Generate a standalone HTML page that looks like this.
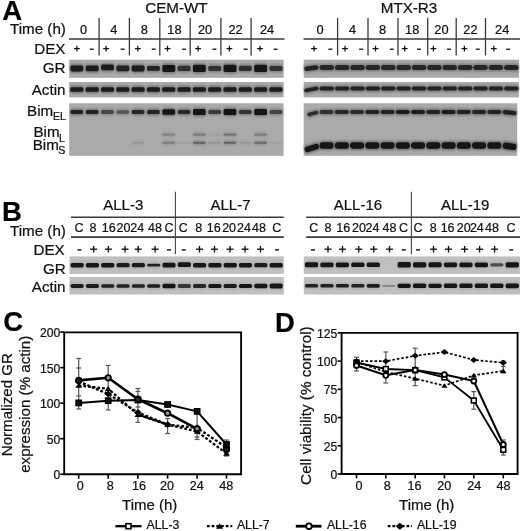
<!DOCTYPE html>
<html><head><meta charset="utf-8"><style>
html,body{margin:0;padding:0;background:#fff;overflow:hidden;}
svg{display:block;font-family:"Liberation Sans", sans-serif;filter:grayscale(1);}
text{stroke:#111;stroke-width:0.22px;}
</style></head><body>
<svg width="520" height="531" viewBox="0 0 520 531">
<defs><filter id="bl" x="-20%" y="-80%" width="140%" height="260%"><feGaussianBlur stdDeviation="0.75"/></filter>
<filter id="b2" x="-20%" y="-80%" width="140%" height="260%"><feGaussianBlur stdDeviation="1.1"/></filter></defs>
<rect width="520" height="531" fill="#fff"/>
<text x="2.21" y="19.60" font-size="27.5" font-weight="bold" fill="#000" >A</text>
<text x="145.22" y="12.60" font-size="15.2" fill="#111" >CEM-WT</text>
<text x="380.75" y="12.70" font-size="15.2" fill="#111" >MTX-R3</text>
<text x="9.93" y="34.40" font-size="15.2" fill="#111" >Time (h)</text>
<text x="34.27" y="54.20" font-size="15.2" fill="#111" >DEX</text>
<text x="42.81" y="72.85" font-size="15.2" fill="#111" >GR</text>
<text x="31.70" y="95.10" font-size="15.2" fill="#111" >Actin</text>
<text x="27.05" y="115.80" font-size="15.2" fill="#111" >Bim</text>
<text x="53.03" y="119.90" font-size="10.6" fill="#111" >EL</text>
<text x="33.45" y="137.30" font-size="15.2" fill="#111" >Bim</text>
<text x="59.03" y="141.60" font-size="10.6" fill="#111" >L</text>
<text x="32.65" y="149.70" font-size="15.2" fill="#111" >Bim</text>
<text x="58.31" y="153.90" font-size="10.6" fill="#111" >S</text>
<line x1="69.00" y1="39.00" x2="284.50" y2="39.00" stroke="#3a3a3a" stroke-width="1.4" />
<line x1="303.50" y1="39.00" x2="520.00" y2="39.00" stroke="#3a3a3a" stroke-width="1.4" />
<line x1="99.10" y1="18.00" x2="99.10" y2="55.50" stroke="#3a3a3a" stroke-width="1.3" />
<line x1="129.40" y1="18.00" x2="129.40" y2="55.50" stroke="#3a3a3a" stroke-width="1.3" />
<line x1="159.80" y1="18.00" x2="159.80" y2="55.50" stroke="#3a3a3a" stroke-width="1.3" />
<line x1="190.20" y1="18.00" x2="190.20" y2="55.50" stroke="#3a3a3a" stroke-width="1.3" />
<line x1="220.90" y1="18.00" x2="220.90" y2="55.50" stroke="#3a3a3a" stroke-width="1.3" />
<line x1="251.10" y1="18.00" x2="251.10" y2="55.50" stroke="#3a3a3a" stroke-width="1.3" />
<line x1="337.60" y1="18.00" x2="337.60" y2="55.50" stroke="#3a3a3a" stroke-width="1.3" />
<line x1="368.00" y1="18.00" x2="368.00" y2="55.50" stroke="#3a3a3a" stroke-width="1.3" />
<line x1="398.00" y1="18.00" x2="398.00" y2="55.50" stroke="#3a3a3a" stroke-width="1.3" />
<line x1="427.70" y1="18.00" x2="427.70" y2="55.50" stroke="#3a3a3a" stroke-width="1.3" />
<line x1="456.20" y1="18.00" x2="456.20" y2="55.50" stroke="#3a3a3a" stroke-width="1.3" />
<line x1="485.50" y1="18.00" x2="485.50" y2="55.50" stroke="#3a3a3a" stroke-width="1.3" />
<text x="80.09" y="33.80" font-size="12.8" fill="#111" >0</text>
<text x="110.33" y="33.80" font-size="12.8" fill="#111" >4</text>
<text x="140.64" y="33.80" font-size="12.8" fill="#111" >8</text>
<text x="167.27" y="33.80" font-size="12.8" fill="#111" >18</text>
<text x="197.96" y="33.80" font-size="12.8" fill="#111" >20</text>
<text x="228.48" y="33.80" font-size="12.8" fill="#111" >22</text>
<text x="259.90" y="33.80" font-size="12.8" fill="#111" >24</text>
<text x="316.59" y="33.80" font-size="12.8" fill="#111" >0</text>
<text x="348.88" y="33.80" font-size="12.8" fill="#111" >4</text>
<text x="379.04" y="33.80" font-size="12.8" fill="#111" >8</text>
<text x="405.12" y="33.80" font-size="12.8" fill="#111" >18</text>
<text x="434.36" y="33.80" font-size="12.8" fill="#111" >20</text>
<text x="463.33" y="33.80" font-size="12.8" fill="#111" >22</text>
<text x="495.10" y="33.80" font-size="12.8" fill="#111" >24</text>
<rect x="74.00" y="47.98" width="5.80" height="1.25" fill="#111" />
<rect x="76.28" y="45.75" width="1.25" height="5.70" fill="#111" />
<rect x="103.20" y="47.98" width="5.80" height="1.25" fill="#111" />
<rect x="105.47" y="45.75" width="1.25" height="5.70" fill="#111" />
<rect x="134.90" y="47.98" width="5.80" height="1.25" fill="#111" />
<rect x="137.18" y="45.75" width="1.25" height="5.70" fill="#111" />
<rect x="164.60" y="47.98" width="5.80" height="1.25" fill="#111" />
<rect x="166.88" y="45.75" width="1.25" height="5.70" fill="#111" />
<rect x="195.20" y="47.98" width="5.80" height="1.25" fill="#111" />
<rect x="197.47" y="45.75" width="1.25" height="5.70" fill="#111" />
<rect x="226.50" y="47.98" width="5.80" height="1.25" fill="#111" />
<rect x="228.78" y="45.75" width="1.25" height="5.70" fill="#111" />
<rect x="257.10" y="47.98" width="5.80" height="1.25" fill="#111" />
<rect x="259.38" y="45.75" width="1.25" height="5.70" fill="#111" />
<rect x="311.10" y="47.98" width="5.80" height="1.25" fill="#111" />
<rect x="313.38" y="45.75" width="1.25" height="5.70" fill="#111" />
<rect x="342.10" y="47.98" width="5.80" height="1.25" fill="#111" />
<rect x="344.38" y="45.75" width="1.25" height="5.70" fill="#111" />
<rect x="372.60" y="47.98" width="5.80" height="1.25" fill="#111" />
<rect x="374.88" y="45.75" width="1.25" height="5.70" fill="#111" />
<rect x="401.80" y="47.98" width="5.80" height="1.25" fill="#111" />
<rect x="404.07" y="45.75" width="1.25" height="5.70" fill="#111" />
<rect x="430.50" y="47.98" width="5.80" height="1.25" fill="#111" />
<rect x="432.77" y="45.75" width="1.25" height="5.70" fill="#111" />
<rect x="461.50" y="47.98" width="5.80" height="1.25" fill="#111" />
<rect x="463.77" y="45.75" width="1.25" height="5.70" fill="#111" />
<rect x="490.90" y="47.98" width="5.80" height="1.25" fill="#111" />
<rect x="493.18" y="45.75" width="1.25" height="5.70" fill="#111" />
<rect x="89.70" y="48.55" width="4.00" height="1.30" fill="#111" />
<rect x="120.60" y="48.55" width="4.00" height="1.30" fill="#111" />
<rect x="151.70" y="48.55" width="4.00" height="1.30" fill="#111" />
<rect x="182.10" y="48.55" width="4.00" height="1.30" fill="#111" />
<rect x="212.40" y="48.55" width="4.00" height="1.30" fill="#111" />
<rect x="243.60" y="48.55" width="4.00" height="1.30" fill="#111" />
<rect x="273.60" y="48.55" width="4.00" height="1.30" fill="#111" />
<rect x="328.40" y="48.55" width="4.00" height="1.30" fill="#111" />
<rect x="359.10" y="48.55" width="4.00" height="1.30" fill="#111" />
<rect x="389.80" y="48.55" width="4.00" height="1.30" fill="#111" />
<rect x="417.00" y="48.55" width="4.00" height="1.30" fill="#111" />
<rect x="447.00" y="48.55" width="4.00" height="1.30" fill="#111" />
<rect x="475.80" y="48.55" width="4.00" height="1.30" fill="#111" />
<rect x="506.20" y="48.55" width="4.00" height="1.30" fill="#111" />
<rect x="69.20" y="59.70" width="214.40" height="18.10" fill="#aaaaaa" />
<g filter="url(#b2)"><rect x="70.10" y="63.80" width="13.51" height="9.20" rx="2" fill="rgb(119,119,119)"/><rect x="85.41" y="63.90" width="13.51" height="9.00" rx="2" fill="rgb(119,119,119)"/><rect x="100.73" y="62.90" width="13.51" height="9.00" rx="2" fill="rgb(119,119,119)"/><rect x="116.04" y="64.00" width="13.51" height="8.80" rx="2" fill="rgb(120,120,120)"/><rect x="131.36" y="63.80" width="13.51" height="9.20" rx="2" fill="rgb(119,119,119)"/><rect x="146.67" y="64.40" width="13.51" height="8.00" rx="2" fill="rgb(122,122,122)"/><rect x="161.99" y="63.30" width="13.51" height="10.20" rx="2" fill="rgb(117,117,117)"/><rect x="177.30" y="64.20" width="13.51" height="8.40" rx="2" fill="rgb(126,126,126)"/><rect x="192.61" y="63.20" width="13.51" height="10.40" rx="2" fill="rgb(117,117,117)"/><rect x="207.93" y="64.30" width="13.51" height="8.20" rx="2" fill="rgb(126,126,126)"/><rect x="223.24" y="63.20" width="13.51" height="10.40" rx="2" fill="rgb(117,117,117)"/><rect x="238.56" y="64.20" width="13.51" height="8.40" rx="2" fill="rgb(125,125,125)"/><rect x="253.87" y="63.20" width="13.51" height="10.40" rx="2" fill="rgb(117,117,117)"/><rect x="269.19" y="64.30" width="13.51" height="8.20" rx="2" fill="rgb(126,126,126)"/></g>
<g filter="url(#bl)"><rect x="70.40" y="65.40" width="12.91" height="6.00" rx="1.60" fill="rgb(28,28,28)"/><rect x="85.71" y="65.50" width="12.91" height="5.80" rx="1.60" fill="rgb(30,30,30)"/><rect x="101.03" y="64.50" width="12.91" height="5.80" rx="1.60" fill="rgb(30,30,30)"/><rect x="116.34" y="65.60" width="12.91" height="5.60" rx="1.60" fill="rgb(33,33,33)"/><rect x="131.66" y="65.40" width="12.91" height="6.00" rx="1.60" fill="rgb(28,28,28)"/><rect x="146.97" y="66.00" width="12.91" height="4.80" rx="1.60" fill="rgb(36,36,36)"/><rect x="162.29" y="64.90" width="12.91" height="7.00" rx="1.60" fill="rgb(24,24,24)"/><rect x="177.60" y="65.80" width="12.91" height="5.20" rx="1.60" fill="rgb(48,48,48)"/><rect x="192.91" y="64.80" width="12.91" height="7.20" rx="1.60" fill="rgb(24,24,24)"/><rect x="208.23" y="65.90" width="12.91" height="5.00" rx="1.60" fill="rgb(48,48,48)"/><rect x="223.54" y="64.80" width="12.91" height="7.20" rx="1.60" fill="rgb(24,24,24)"/><rect x="238.86" y="65.80" width="12.91" height="5.20" rx="1.60" fill="rgb(45,45,45)"/><rect x="254.17" y="64.80" width="12.91" height="7.20" rx="1.60" fill="rgb(24,24,24)"/><rect x="269.49" y="65.90" width="12.91" height="5.00" rx="1.60" fill="rgb(48,48,48)"/></g>
<rect x="303.70" y="59.70" width="215.30" height="18.10" fill="#aaaaaa" />
<g filter="url(#b2)"><rect x="303.90" y="64.20" width="14.98" height="7.80" rx="2" fill="rgb(122,122,122)" transform="rotate(-7 311.39 68.10)"/><rect x="319.28" y="63.50" width="14.98" height="8.20" rx="2" fill="rgb(123,123,123)"/><rect x="334.66" y="63.50" width="14.98" height="8.20" rx="2" fill="rgb(123,123,123)"/><rect x="350.04" y="63.50" width="14.98" height="8.20" rx="2" fill="rgb(123,123,123)"/><rect x="365.41" y="63.50" width="14.98" height="8.20" rx="2" fill="rgb(123,123,123)"/><rect x="380.79" y="63.50" width="14.98" height="8.20" rx="2" fill="rgb(123,123,123)"/><rect x="396.17" y="63.50" width="14.98" height="8.20" rx="2" fill="rgb(123,123,123)"/><rect x="411.55" y="63.50" width="14.98" height="8.20" rx="2" fill="rgb(123,123,123)"/><rect x="426.93" y="63.50" width="14.98" height="8.20" rx="2" fill="rgb(123,123,123)"/><rect x="442.31" y="63.50" width="14.98" height="8.20" rx="2" fill="rgb(123,123,123)"/><rect x="457.69" y="63.50" width="14.98" height="8.20" rx="2" fill="rgb(123,123,123)"/><rect x="473.06" y="63.50" width="14.98" height="8.20" rx="2" fill="rgb(123,123,123)"/><rect x="488.44" y="63.50" width="14.98" height="8.20" rx="2" fill="rgb(123,123,123)"/><rect x="503.82" y="63.50" width="14.98" height="8.20" rx="2" fill="rgb(123,123,123)"/></g>
<g filter="url(#bl)"><rect x="304.20" y="65.80" width="14.38" height="4.60" rx="2.30" fill="rgb(36,36,36)" transform="rotate(-7 311.39 68.10)"/><rect x="319.58" y="65.10" width="14.38" height="5.00" rx="2.50" fill="rgb(39,39,39)"/><rect x="334.96" y="65.10" width="14.38" height="5.00" rx="2.50" fill="rgb(39,39,39)"/><rect x="350.34" y="65.10" width="14.38" height="5.00" rx="2.50" fill="rgb(39,39,39)"/><rect x="365.71" y="65.10" width="14.38" height="5.00" rx="2.50" fill="rgb(39,39,39)"/><rect x="381.09" y="65.10" width="14.38" height="5.00" rx="2.50" fill="rgb(39,39,39)"/><rect x="396.47" y="65.10" width="14.38" height="5.00" rx="2.50" fill="rgb(39,39,39)"/><rect x="411.85" y="65.10" width="14.38" height="5.00" rx="2.50" fill="rgb(39,39,39)"/><rect x="427.23" y="65.10" width="14.38" height="5.00" rx="2.50" fill="rgb(39,39,39)"/><rect x="442.61" y="65.10" width="14.38" height="5.00" rx="2.50" fill="rgb(39,39,39)"/><rect x="457.99" y="65.10" width="14.38" height="5.00" rx="2.50" fill="rgb(39,39,39)"/><rect x="473.36" y="65.10" width="14.38" height="5.00" rx="2.50" fill="rgb(39,39,39)"/><rect x="488.74" y="65.10" width="14.38" height="5.00" rx="2.50" fill="rgb(39,39,39)"/><rect x="504.12" y="65.10" width="14.38" height="5.00" rx="2.50" fill="rgb(39,39,39)"/></g>
<rect x="69.20" y="82.00" width="214.40" height="15.40" fill="#aaaaaa" />
<g filter="url(#b2)"><rect x="70.00" y="85.60" width="13.71" height="7.80" rx="2" fill="rgb(118,118,118)"/><rect x="85.31" y="85.60" width="13.71" height="7.80" rx="2" fill="rgb(118,118,118)"/><rect x="100.63" y="85.60" width="13.71" height="7.80" rx="2" fill="rgb(118,118,118)"/><rect x="115.94" y="85.60" width="13.71" height="7.80" rx="2" fill="rgb(118,118,118)"/><rect x="131.26" y="85.60" width="13.71" height="7.80" rx="2" fill="rgb(118,118,118)"/><rect x="146.57" y="85.60" width="13.71" height="7.80" rx="2" fill="rgb(118,118,118)"/><rect x="161.89" y="85.60" width="13.71" height="7.80" rx="2" fill="rgb(118,118,118)"/><rect x="177.20" y="85.60" width="13.71" height="7.80" rx="2" fill="rgb(118,118,118)"/><rect x="192.51" y="85.60" width="13.71" height="7.80" rx="2" fill="rgb(118,118,118)"/><rect x="207.83" y="85.60" width="13.71" height="7.80" rx="2" fill="rgb(118,118,118)"/><rect x="223.14" y="85.60" width="13.71" height="7.80" rx="2" fill="rgb(118,118,118)"/><rect x="238.46" y="85.60" width="13.71" height="7.80" rx="2" fill="rgb(118,118,118)"/><rect x="253.77" y="85.60" width="13.71" height="7.80" rx="2" fill="rgb(118,118,118)"/><rect x="269.09" y="85.60" width="13.71" height="7.80" rx="2" fill="rgb(118,118,118)"/></g>
<g filter="url(#bl)"><rect x="70.30" y="87.20" width="13.11" height="4.60" rx="1.60" fill="rgb(26,26,26)"/><rect x="85.61" y="87.20" width="13.11" height="4.60" rx="1.60" fill="rgb(26,26,26)"/><rect x="100.93" y="87.20" width="13.11" height="4.60" rx="1.60" fill="rgb(26,26,26)"/><rect x="116.24" y="87.20" width="13.11" height="4.60" rx="1.60" fill="rgb(26,26,26)"/><rect x="131.56" y="87.20" width="13.11" height="4.60" rx="1.60" fill="rgb(26,26,26)"/><rect x="146.87" y="87.20" width="13.11" height="4.60" rx="1.60" fill="rgb(26,26,26)"/><rect x="162.19" y="87.20" width="13.11" height="4.60" rx="1.60" fill="rgb(26,26,26)"/><rect x="177.50" y="87.20" width="13.11" height="4.60" rx="1.60" fill="rgb(26,26,26)"/><rect x="192.81" y="87.20" width="13.11" height="4.60" rx="1.60" fill="rgb(26,26,26)"/><rect x="208.13" y="87.20" width="13.11" height="4.60" rx="1.60" fill="rgb(26,26,26)"/><rect x="223.44" y="87.20" width="13.11" height="4.60" rx="1.60" fill="rgb(26,26,26)"/><rect x="238.76" y="87.20" width="13.11" height="4.60" rx="1.60" fill="rgb(26,26,26)"/><rect x="254.07" y="87.20" width="13.11" height="4.60" rx="1.60" fill="rgb(26,26,26)"/><rect x="269.39" y="87.20" width="13.11" height="4.60" rx="1.60" fill="rgb(26,26,26)"/></g>
<rect x="303.70" y="82.00" width="215.30" height="15.40" fill="#aaaaaa" />
<g filter="url(#b2)"><rect x="303.90" y="85.90" width="14.98" height="7.00" rx="2" fill="rgb(120,120,120)" transform="rotate(-10 311.39 89.40)"/><rect x="319.28" y="85.00" width="14.98" height="7.20" rx="2" fill="rgb(120,120,120)"/><rect x="334.66" y="85.00" width="14.98" height="7.20" rx="2" fill="rgb(120,120,120)"/><rect x="350.04" y="85.00" width="14.98" height="7.20" rx="2" fill="rgb(120,120,120)"/><rect x="365.41" y="85.00" width="14.98" height="7.20" rx="2" fill="rgb(120,120,120)"/><rect x="380.79" y="85.00" width="14.98" height="7.20" rx="2" fill="rgb(120,120,120)"/><rect x="396.17" y="85.00" width="14.98" height="7.20" rx="2" fill="rgb(120,120,120)"/><rect x="411.55" y="85.00" width="14.98" height="7.20" rx="2" fill="rgb(120,120,120)"/><rect x="426.93" y="85.00" width="14.98" height="7.20" rx="2" fill="rgb(120,120,120)"/><rect x="442.31" y="85.00" width="14.98" height="7.20" rx="2" fill="rgb(120,120,120)"/><rect x="457.69" y="85.00" width="14.98" height="7.20" rx="2" fill="rgb(120,120,120)"/><rect x="473.06" y="85.00" width="14.98" height="7.20" rx="2" fill="rgb(120,120,120)"/><rect x="488.44" y="85.00" width="14.98" height="7.20" rx="2" fill="rgb(120,120,120)"/><rect x="503.82" y="85.00" width="14.98" height="7.20" rx="2" fill="rgb(120,120,120)"/></g>
<g filter="url(#bl)"><rect x="304.20" y="87.50" width="14.38" height="3.80" rx="1.90" fill="rgb(33,33,33)" transform="rotate(-10 311.39 89.40)"/><rect x="319.58" y="86.60" width="14.38" height="4.00" rx="2.00" fill="rgb(33,33,33)"/><rect x="334.96" y="86.60" width="14.38" height="4.00" rx="2.00" fill="rgb(33,33,33)"/><rect x="350.34" y="86.60" width="14.38" height="4.00" rx="2.00" fill="rgb(33,33,33)"/><rect x="365.71" y="86.60" width="14.38" height="4.00" rx="2.00" fill="rgb(33,33,33)"/><rect x="381.09" y="86.60" width="14.38" height="4.00" rx="2.00" fill="rgb(33,33,33)"/><rect x="396.47" y="86.60" width="14.38" height="4.00" rx="2.00" fill="rgb(33,33,33)"/><rect x="411.85" y="86.60" width="14.38" height="4.00" rx="2.00" fill="rgb(33,33,33)"/><rect x="427.23" y="86.60" width="14.38" height="4.00" rx="2.00" fill="rgb(33,33,33)"/><rect x="442.61" y="86.60" width="14.38" height="4.00" rx="2.00" fill="rgb(33,33,33)"/><rect x="457.99" y="86.60" width="14.38" height="4.00" rx="2.00" fill="rgb(33,33,33)"/><rect x="473.36" y="86.60" width="14.38" height="4.00" rx="2.00" fill="rgb(33,33,33)"/><rect x="488.74" y="86.60" width="14.38" height="4.00" rx="2.00" fill="rgb(33,33,33)"/><rect x="504.12" y="86.60" width="14.38" height="4.00" rx="2.00" fill="rgb(33,33,33)"/></g>
<rect x="69.20" y="103.30" width="214.40" height="52.50" fill="#aaaaaa" />
<g filter="url(#b2)"><rect x="70.20" y="108.40" width="13.31" height="7.20" rx="2" fill="rgb(120,120,120)"/><rect x="85.51" y="108.40" width="13.31" height="7.20" rx="2" fill="rgb(122,122,122)"/><rect x="100.83" y="108.50" width="13.31" height="7.00" rx="2" fill="rgb(134,134,134)"/><rect x="116.14" y="108.60" width="13.31" height="6.80" rx="2" fill="rgb(140,140,140)"/><rect x="131.46" y="108.40" width="13.31" height="7.20" rx="2" fill="rgb(123,123,123)"/><rect x="146.77" y="108.30" width="13.31" height="7.40" rx="2" fill="rgb(120,120,120)"/><rect x="162.09" y="107.65" width="13.31" height="8.70" rx="2" fill="rgb(115,115,115)"/><rect x="177.40" y="108.30" width="13.31" height="7.40" rx="2" fill="rgb(123,123,123)"/><rect x="192.71" y="107.40" width="13.31" height="9.20" rx="2" fill="rgb(115,115,115)"/><rect x="208.03" y="108.40" width="13.31" height="7.20" rx="2" fill="rgb(129,129,129)"/><rect x="223.34" y="107.40" width="13.31" height="9.20" rx="2" fill="rgb(115,115,115)"/><rect x="238.66" y="108.40" width="13.31" height="7.20" rx="2" fill="rgb(127,127,127)"/><rect x="253.97" y="107.40" width="13.31" height="9.20" rx="2" fill="rgb(115,115,115)"/><rect x="269.29" y="108.50" width="13.31" height="7.00" rx="2" fill="rgb(133,133,133)"/><rect x="162.09" y="132.10" width="13.31" height="5.00" rx="2" fill="rgb(155,155,155)"/><rect x="192.71" y="132.10" width="13.31" height="5.00" rx="2" fill="rgb(151,151,151)"/><rect x="208.03" y="132.25" width="13.31" height="4.70" rx="2" fill="rgb(167,167,167)"/><rect x="223.34" y="132.10" width="13.31" height="5.00" rx="2" fill="rgb(149,149,149)"/><rect x="253.97" y="132.10" width="13.31" height="5.00" rx="2" fill="rgb(151,151,151)"/><rect x="131.46" y="140.40" width="13.31" height="4.80" rx="2" fill="rgb(163,163,163)"/><rect x="162.09" y="140.20" width="13.31" height="5.20" rx="2" fill="rgb(154,154,154)"/><rect x="177.40" y="140.45" width="13.31" height="4.70" rx="2" fill="rgb(167,167,167)"/><rect x="192.71" y="140.20" width="13.31" height="5.20" rx="2" fill="rgb(144,144,144)"/><rect x="208.03" y="140.40" width="13.31" height="4.80" rx="2" fill="rgb(162,162,162)"/><rect x="223.34" y="140.20" width="13.31" height="5.20" rx="2" fill="rgb(145,145,145)"/><rect x="238.66" y="140.40" width="13.31" height="4.80" rx="2" fill="rgb(163,163,163)"/><rect x="253.97" y="140.20" width="13.31" height="5.20" rx="2" fill="rgb(147,147,147)"/><rect x="269.29" y="140.45" width="13.31" height="4.70" rx="2" fill="rgb(167,167,167)"/></g>
<g filter="url(#bl)"><rect x="70.50" y="110.00" width="12.71" height="4.00" rx="1.60" fill="rgb(33,33,33)"/><rect x="85.81" y="110.00" width="12.71" height="4.00" rx="1.60" fill="rgb(36,36,36)"/><rect x="101.13" y="110.10" width="12.71" height="3.80" rx="1.60" fill="rgb(70,70,70)"/><rect x="116.44" y="110.20" width="12.71" height="3.60" rx="1.60" fill="rgb(86,86,86)"/><rect x="131.76" y="110.00" width="12.71" height="4.00" rx="1.60" fill="rgb(40,40,40)"/><rect x="147.07" y="109.90" width="12.71" height="4.20" rx="1.60" fill="rgb(33,33,33)"/><rect x="162.39" y="109.25" width="12.71" height="5.50" rx="1.60" fill="rgb(18,18,18)"/><rect x="177.70" y="109.90" width="12.71" height="4.20" rx="1.60" fill="rgb(40,40,40)"/><rect x="193.01" y="109.00" width="12.71" height="6.00" rx="1.60" fill="rgb(18,18,18)"/><rect x="208.33" y="110.00" width="12.71" height="4.00" rx="1.60" fill="rgb(56,56,56)"/><rect x="223.64" y="109.00" width="12.71" height="6.00" rx="1.60" fill="rgb(18,18,18)"/><rect x="238.96" y="110.00" width="12.71" height="4.00" rx="1.60" fill="rgb(51,51,51)"/><rect x="254.27" y="109.00" width="12.71" height="6.00" rx="1.60" fill="rgb(18,18,18)"/><rect x="269.59" y="110.10" width="12.71" height="3.80" rx="1.60" fill="rgb(66,66,66)"/><rect x="162.39" y="133.70" width="12.71" height="1.80" rx="0.90" fill="rgb(126,126,126)"/><rect x="193.01" y="133.70" width="12.71" height="1.80" rx="0.90" fill="rgb(116,116,116)"/><rect x="208.33" y="133.85" width="12.71" height="1.50" rx="0.75" fill="rgb(159,159,159)"/><rect x="223.64" y="133.70" width="12.71" height="1.80" rx="0.90" fill="rgb(111,111,111)"/><rect x="254.27" y="133.70" width="12.71" height="1.80" rx="0.90" fill="rgb(116,116,116)"/><rect x="131.76" y="142.00" width="12.71" height="1.60" rx="0.80" fill="rgb(150,150,150)"/><rect x="162.39" y="141.80" width="12.71" height="2.00" rx="1.00" fill="rgb(123,123,123)"/><rect x="177.70" y="142.05" width="12.71" height="1.50" rx="0.75" fill="rgb(159,159,159)"/><rect x="193.01" y="141.80" width="12.71" height="2.00" rx="1.00" fill="rgb(96,96,96)"/><rect x="208.33" y="142.00" width="12.71" height="1.60" rx="0.80" fill="rgb(146,146,146)"/><rect x="223.64" y="141.80" width="12.71" height="2.00" rx="1.00" fill="rgb(100,100,100)"/><rect x="238.96" y="142.00" width="12.71" height="1.60" rx="0.80" fill="rgb(150,150,150)"/><rect x="254.27" y="141.80" width="12.71" height="2.00" rx="1.00" fill="rgb(105,105,105)"/><rect x="269.59" y="142.05" width="12.71" height="1.50" rx="0.75" fill="rgb(159,159,159)"/></g>
<rect x="303.70" y="103.30" width="213.50" height="52.50" fill="#aaaaaa" />
<g filter="url(#b2)"><rect x="306.90" y="110.10" width="11.84" height="6.80" rx="2" fill="rgb(125,125,125)" transform="rotate(-14 312.82 113.50)"/><rect x="319.25" y="108.50" width="14.65" height="7.00" rx="2" fill="rgb(126,126,126)"/><rect x="334.50" y="108.40" width="14.65" height="7.20" rx="2" fill="rgb(123,123,123)"/><rect x="349.75" y="108.40" width="14.65" height="7.20" rx="2" fill="rgb(124,124,124)"/><rect x="365.00" y="108.30" width="14.65" height="7.40" rx="2" fill="rgb(122,122,122)"/><rect x="380.25" y="108.30" width="14.65" height="7.40" rx="2" fill="rgb(120,120,120)"/><rect x="395.50" y="108.30" width="14.65" height="7.40" rx="2" fill="rgb(119,119,119)"/><rect x="410.75" y="108.30" width="14.65" height="7.40" rx="2" fill="rgb(119,119,119)"/><rect x="426.00" y="108.30" width="14.65" height="7.40" rx="2" fill="rgb(120,120,120)"/><rect x="441.25" y="108.30" width="14.65" height="7.40" rx="2" fill="rgb(119,119,119)"/><rect x="456.50" y="108.30" width="14.65" height="7.40" rx="2" fill="rgb(120,120,120)"/><rect x="471.75" y="108.30" width="14.65" height="7.40" rx="2" fill="rgb(120,120,120)"/><rect x="487.00" y="108.30" width="14.65" height="7.40" rx="2" fill="rgb(120,120,120)"/><rect x="502.25" y="108.90" width="14.65" height="7.40" rx="2" fill="rgb(120,120,120)" transform="rotate(6 509.58 112.60)"/><rect x="304.15" y="143.60" width="15.35" height="8.80" rx="2" fill="rgb(115,115,115)" transform="rotate(-18 311.82 148.00)"/><rect x="319.25" y="140.70" width="14.65" height="9.60" rx="2" fill="rgb(115,115,115)"/><rect x="334.50" y="140.70" width="14.65" height="9.60" rx="2" fill="rgb(115,115,115)"/><rect x="349.75" y="140.70" width="14.65" height="9.60" rx="2" fill="rgb(115,115,115)"/><rect x="365.00" y="140.70" width="14.65" height="9.60" rx="2" fill="rgb(115,115,115)"/><rect x="380.25" y="140.70" width="14.65" height="9.60" rx="2" fill="rgb(115,115,115)"/><rect x="395.50" y="140.70" width="14.65" height="9.60" rx="2" fill="rgb(115,115,115)"/><rect x="410.75" y="140.70" width="14.65" height="9.60" rx="2" fill="rgb(115,115,115)"/><rect x="426.00" y="140.70" width="14.65" height="9.60" rx="2" fill="rgb(115,115,115)"/><rect x="441.25" y="140.70" width="14.65" height="9.60" rx="2" fill="rgb(115,115,115)"/><rect x="456.50" y="140.70" width="14.65" height="9.60" rx="2" fill="rgb(115,115,115)"/><rect x="471.75" y="140.70" width="14.65" height="9.60" rx="2" fill="rgb(115,115,115)"/><rect x="487.00" y="140.70" width="14.65" height="9.60" rx="2" fill="rgb(115,115,115)"/><rect x="502.25" y="141.50" width="14.65" height="9.60" rx="2" fill="rgb(115,115,115)" transform="rotate(8 509.58 146.30)"/></g>
<g filter="url(#bl)"><rect x="307.20" y="111.70" width="11.24" height="3.60" rx="1.80" fill="rgb(45,45,45)" transform="rotate(-14 312.82 113.50)"/><rect x="319.55" y="110.10" width="14.05" height="3.80" rx="1.90" fill="rgb(48,48,48)"/><rect x="334.80" y="110.00" width="14.05" height="4.00" rx="2.00" fill="rgb(39,39,39)"/><rect x="350.05" y="110.00" width="14.05" height="4.00" rx="2.00" fill="rgb(42,42,42)"/><rect x="365.30" y="109.90" width="14.05" height="4.20" rx="2.10" fill="rgb(36,36,36)"/><rect x="380.55" y="109.90" width="14.05" height="4.20" rx="2.10" fill="rgb(33,33,33)"/><rect x="395.80" y="109.90" width="14.05" height="4.20" rx="2.10" fill="rgb(30,30,30)"/><rect x="411.05" y="109.90" width="14.05" height="4.20" rx="2.10" fill="rgb(30,30,30)"/><rect x="426.30" y="109.90" width="14.05" height="4.20" rx="2.10" fill="rgb(33,33,33)"/><rect x="441.55" y="109.90" width="14.05" height="4.20" rx="2.10" fill="rgb(30,30,30)"/><rect x="456.80" y="109.90" width="14.05" height="4.20" rx="2.10" fill="rgb(33,33,33)"/><rect x="472.05" y="109.90" width="14.05" height="4.20" rx="2.10" fill="rgb(33,33,33)"/><rect x="487.30" y="109.90" width="14.05" height="4.20" rx="2.10" fill="rgb(33,33,33)"/><rect x="502.55" y="110.50" width="14.05" height="4.20" rx="2.10" fill="rgb(33,33,33)" transform="rotate(6 509.58 112.60)"/><rect x="304.45" y="145.20" width="14.75" height="5.60" rx="2.80" fill="rgb(18,18,18)" transform="rotate(-18 311.82 148.00)"/><rect x="319.55" y="142.30" width="14.05" height="6.40" rx="3.00" fill="rgb(18,18,18)"/><rect x="334.80" y="142.30" width="14.05" height="6.40" rx="3.00" fill="rgb(18,18,18)"/><rect x="350.05" y="142.30" width="14.05" height="6.40" rx="3.00" fill="rgb(18,18,18)"/><rect x="365.30" y="142.30" width="14.05" height="6.40" rx="3.00" fill="rgb(18,18,18)"/><rect x="380.55" y="142.30" width="14.05" height="6.40" rx="3.00" fill="rgb(18,18,18)"/><rect x="395.80" y="142.30" width="14.05" height="6.40" rx="3.00" fill="rgb(18,18,18)"/><rect x="411.05" y="142.30" width="14.05" height="6.40" rx="3.00" fill="rgb(18,18,18)"/><rect x="426.30" y="142.30" width="14.05" height="6.40" rx="3.00" fill="rgb(18,18,18)"/><rect x="441.55" y="142.30" width="14.05" height="6.40" rx="3.00" fill="rgb(18,18,18)"/><rect x="456.80" y="142.30" width="14.05" height="6.40" rx="3.00" fill="rgb(18,18,18)"/><rect x="472.05" y="142.30" width="14.05" height="6.40" rx="3.00" fill="rgb(18,18,18)"/><rect x="487.30" y="142.30" width="14.05" height="6.40" rx="3.00" fill="rgb(18,18,18)"/><rect x="502.55" y="143.10" width="14.05" height="6.40" rx="3.00" fill="rgb(18,18,18)" transform="rotate(8 509.58 146.30)"/></g>
<text x="1.91" y="221.00" font-size="27.5" font-weight="bold" fill="#000" >B</text>
<text x="103.22" y="209.70" font-size="15.0" fill="#111" >ALL-3</text>
<text x="210.47" y="209.70" font-size="15.0" fill="#111" >ALL-7</text>
<text x="333.72" y="209.60" font-size="15.0" fill="#111" >ALL-16</text>
<text x="440.97" y="209.60" font-size="15.0" fill="#111" >ALL-19</text>
<text x="9.93" y="235.50" font-size="15.2" fill="#111" >Time (h)</text>
<text x="33.47" y="255.00" font-size="15.2" fill="#111" >DEX</text>
<text x="42.91" y="273.85" font-size="15.2" fill="#111" >GR</text>
<text x="31.80" y="292.30" font-size="15.2" fill="#111" >Actin</text>
<line x1="71.00" y1="217.20" x2="283.80" y2="217.20" stroke="#3a3a3a" stroke-width="1.4" />
<line x1="71.00" y1="237.10" x2="283.80" y2="237.10" stroke="#3a3a3a" stroke-width="1.8" />
<line x1="306.20" y1="217.20" x2="520.00" y2="217.20" stroke="#3a3a3a" stroke-width="1.4" />
<line x1="306.20" y1="237.10" x2="520.00" y2="237.10" stroke="#3a3a3a" stroke-width="1.8" />
<line x1="175.40" y1="191.80" x2="175.40" y2="254.20" stroke="#444" stroke-width="1.1" />
<line x1="411.40" y1="191.80" x2="411.40" y2="254.20" stroke="#444" stroke-width="1.1" />
<text x="74.61" y="231.60" font-size="12.5" fill="#111" >C</text>
<text x="89.53" y="231.60" font-size="12.5" fill="#111" >8</text>
<text x="101.85" y="231.60" font-size="12.5" fill="#111" >16</text>
<text x="116.58" y="231.60" font-size="12.5" fill="#111" >20</text>
<text x="130.22" y="231.60" font-size="12.5" fill="#111" >24</text>
<text x="147.98" y="231.60" font-size="12.5" fill="#111" >48</text>
<text x="164.61" y="231.60" font-size="12.5" fill="#111" >C</text>
<text x="178.71" y="231.60" font-size="12.5" fill="#111" >C</text>
<text x="195.33" y="231.60" font-size="12.5" fill="#111" >8</text>
<text x="206.75" y="231.60" font-size="12.5" fill="#111" >16</text>
<text x="222.18" y="231.60" font-size="12.5" fill="#111" >20</text>
<text x="237.12" y="231.60" font-size="12.5" fill="#111" >24</text>
<text x="251.98" y="231.60" font-size="12.5" fill="#111" >48</text>
<text x="272.21" y="231.60" font-size="12.5" fill="#111" >C</text>
<text x="309.21" y="231.60" font-size="12.5" fill="#111" >C</text>
<text x="324.42" y="231.60" font-size="12.5" fill="#111" >8</text>
<text x="336.25" y="231.60" font-size="12.5" fill="#111" >16</text>
<text x="351.98" y="231.60" font-size="12.5" fill="#111" >20</text>
<text x="365.62" y="231.60" font-size="12.5" fill="#111" >24</text>
<text x="382.57" y="231.60" font-size="12.5" fill="#111" >48</text>
<text x="399.11" y="231.60" font-size="12.5" fill="#111" >C</text>
<text x="413.41" y="231.60" font-size="12.5" fill="#111" >C</text>
<text x="429.72" y="231.60" font-size="12.5" fill="#111" >8</text>
<text x="440.65" y="231.60" font-size="12.5" fill="#111" >16</text>
<text x="456.73" y="231.60" font-size="12.5" fill="#111" >20</text>
<text x="469.92" y="231.60" font-size="12.5" fill="#111" >24</text>
<text x="484.98" y="231.60" font-size="12.5" fill="#111" >48</text>
<text x="506.51" y="231.60" font-size="12.5" fill="#111" >C</text>
<rect x="77.50" y="249.20" width="4.00" height="1.40" fill="#111" />
<rect x="90.10" y="248.52" width="7.00" height="1.35" fill="#111" />
<rect x="92.92" y="245.90" width="1.35" height="6.60" fill="#111" />
<rect x="104.90" y="248.52" width="7.00" height="1.35" fill="#111" />
<rect x="107.73" y="245.90" width="1.35" height="6.60" fill="#111" />
<rect x="121.50" y="248.52" width="7.00" height="1.35" fill="#111" />
<rect x="124.33" y="245.90" width="1.35" height="6.60" fill="#111" />
<rect x="134.70" y="248.52" width="7.00" height="1.35" fill="#111" />
<rect x="137.52" y="245.90" width="1.35" height="6.60" fill="#111" />
<rect x="151.60" y="248.52" width="7.00" height="1.35" fill="#111" />
<rect x="154.42" y="245.90" width="1.35" height="6.60" fill="#111" />
<rect x="167.00" y="249.20" width="4.00" height="1.40" fill="#111" />
<rect x="181.75" y="249.20" width="4.00" height="1.40" fill="#111" />
<rect x="196.00" y="248.52" width="7.00" height="1.35" fill="#111" />
<rect x="198.82" y="245.90" width="1.35" height="6.60" fill="#111" />
<rect x="211.00" y="248.52" width="7.00" height="1.35" fill="#111" />
<rect x="213.82" y="245.90" width="1.35" height="6.60" fill="#111" />
<rect x="226.50" y="248.52" width="7.00" height="1.35" fill="#111" />
<rect x="229.32" y="245.90" width="1.35" height="6.60" fill="#111" />
<rect x="241.50" y="248.52" width="7.00" height="1.35" fill="#111" />
<rect x="244.32" y="245.90" width="1.35" height="6.60" fill="#111" />
<rect x="257.00" y="248.52" width="7.00" height="1.35" fill="#111" />
<rect x="259.82" y="245.90" width="1.35" height="6.60" fill="#111" />
<rect x="275.00" y="249.20" width="4.00" height="1.40" fill="#111" />
<rect x="311.00" y="249.20" width="4.00" height="1.40" fill="#111" />
<rect x="324.50" y="248.52" width="7.00" height="1.35" fill="#111" />
<rect x="327.32" y="245.90" width="1.35" height="6.60" fill="#111" />
<rect x="339.00" y="248.52" width="7.00" height="1.35" fill="#111" />
<rect x="341.82" y="245.90" width="1.35" height="6.60" fill="#111" />
<rect x="355.25" y="248.52" width="7.00" height="1.35" fill="#111" />
<rect x="358.07" y="245.90" width="1.35" height="6.60" fill="#111" />
<rect x="370.25" y="248.52" width="7.00" height="1.35" fill="#111" />
<rect x="373.07" y="245.90" width="1.35" height="6.60" fill="#111" />
<rect x="386.00" y="248.52" width="7.00" height="1.35" fill="#111" />
<rect x="388.82" y="245.90" width="1.35" height="6.60" fill="#111" />
<rect x="401.75" y="249.20" width="4.00" height="1.40" fill="#111" />
<rect x="416.00" y="249.20" width="4.00" height="1.40" fill="#111" />
<rect x="430.00" y="248.52" width="7.00" height="1.35" fill="#111" />
<rect x="432.82" y="245.90" width="1.35" height="6.60" fill="#111" />
<rect x="445.00" y="248.52" width="7.00" height="1.35" fill="#111" />
<rect x="447.82" y="245.90" width="1.35" height="6.60" fill="#111" />
<rect x="461.10" y="248.52" width="7.00" height="1.35" fill="#111" />
<rect x="463.93" y="245.90" width="1.35" height="6.60" fill="#111" />
<rect x="476.10" y="248.52" width="7.00" height="1.35" fill="#111" />
<rect x="478.93" y="245.90" width="1.35" height="6.60" fill="#111" />
<rect x="491.10" y="248.52" width="7.00" height="1.35" fill="#111" />
<rect x="493.93" y="245.90" width="1.35" height="6.60" fill="#111" />
<rect x="509.20" y="249.20" width="4.00" height="1.40" fill="#111" />
<rect x="69.50" y="256.40" width="214.30" height="17.60" fill="#c0c0c0" />
<g filter="url(#b2)"><rect x="70.30" y="261.40" width="13.71" height="7.60" rx="2" fill="rgb(173,173,173)"/><rect x="85.61" y="261.40" width="13.71" height="7.60" rx="2" fill="rgb(173,173,173)"/><rect x="100.91" y="261.40" width="13.71" height="7.60" rx="2" fill="rgb(173,173,173)"/><rect x="116.22" y="261.50" width="13.71" height="7.40" rx="2" fill="rgb(174,174,174)"/><rect x="131.53" y="261.50" width="13.71" height="7.40" rx="2" fill="rgb(174,174,174)"/><rect x="146.84" y="262.20" width="13.71" height="6.00" rx="2" fill="rgb(175,175,175)"/><rect x="162.14" y="261.20" width="13.71" height="8.00" rx="2" fill="rgb(173,173,173)"/><rect x="177.45" y="260.70" width="13.71" height="8.00" rx="2" fill="rgb(173,173,173)"/><rect x="192.76" y="261.30" width="13.71" height="7.80" rx="2" fill="rgb(173,173,173)"/><rect x="208.06" y="261.40" width="13.71" height="7.60" rx="2" fill="rgb(173,173,173)"/><rect x="223.37" y="261.40" width="13.71" height="7.60" rx="2" fill="rgb(173,173,173)"/><rect x="238.68" y="261.40" width="13.71" height="7.60" rx="2" fill="rgb(173,173,173)"/><rect x="253.99" y="261.50" width="13.71" height="7.40" rx="2" fill="rgb(174,174,174)"/><rect x="269.29" y="261.30" width="13.71" height="7.80" rx="2" fill="rgb(173,173,173)"/></g>
<g filter="url(#bl)"><rect x="70.60" y="263.00" width="13.11" height="4.40" rx="1.60" fill="rgb(23,23,23)"/><rect x="85.91" y="263.00" width="13.11" height="4.40" rx="1.60" fill="rgb(23,23,23)"/><rect x="101.21" y="263.00" width="13.11" height="4.40" rx="1.60" fill="rgb(23,23,23)"/><rect x="116.52" y="263.10" width="13.11" height="4.20" rx="1.60" fill="rgb(26,26,26)"/><rect x="131.83" y="263.10" width="13.11" height="4.20" rx="1.60" fill="rgb(26,26,26)"/><rect x="147.14" y="263.80" width="13.11" height="2.80" rx="1.40" fill="rgb(33,33,33)"/><rect x="162.44" y="262.80" width="13.11" height="4.80" rx="1.60" fill="rgb(18,18,18)"/><rect x="177.75" y="262.30" width="13.11" height="4.80" rx="1.60" fill="rgb(18,18,18)"/><rect x="193.06" y="262.90" width="13.11" height="4.60" rx="1.60" fill="rgb(18,18,18)"/><rect x="208.36" y="263.00" width="13.11" height="4.40" rx="1.60" fill="rgb(18,18,18)"/><rect x="223.67" y="263.00" width="13.11" height="4.40" rx="1.60" fill="rgb(18,18,18)"/><rect x="238.98" y="263.00" width="13.11" height="4.40" rx="1.60" fill="rgb(23,23,23)"/><rect x="254.29" y="263.10" width="13.11" height="4.20" rx="1.60" fill="rgb(26,26,26)"/><rect x="269.59" y="262.90" width="13.11" height="4.60" rx="1.60" fill="rgb(23,23,23)"/></g>
<rect x="303.80" y="256.40" width="216.20" height="17.60" fill="#c0c0c0" />
<g filter="url(#b2)"><rect x="304.60" y="260.70" width="13.84" height="8.20" rx="2" fill="rgb(173,173,173)"/><rect x="320.04" y="260.80" width="13.84" height="8.00" rx="2" fill="rgb(173,173,173)"/><rect x="335.49" y="260.80" width="13.84" height="8.00" rx="2" fill="rgb(173,173,173)"/><rect x="350.93" y="260.90" width="13.84" height="7.80" rx="2" fill="rgb(173,173,173)"/><rect x="366.37" y="260.90" width="13.84" height="7.80" rx="2" fill="rgb(173,173,173)"/><rect x="397.26" y="260.50" width="13.84" height="8.60" rx="2" fill="rgb(173,173,173)"/><rect x="412.70" y="260.60" width="13.84" height="8.40" rx="2" fill="rgb(173,173,173)"/><rect x="428.14" y="260.70" width="13.84" height="8.20" rx="2" fill="rgb(173,173,173)"/><rect x="443.59" y="260.80" width="13.84" height="8.00" rx="2" fill="rgb(173,173,173)"/><rect x="459.03" y="260.80" width="13.84" height="8.00" rx="2" fill="rgb(173,173,173)"/><rect x="474.47" y="260.80" width="13.84" height="8.00" rx="2" fill="rgb(173,173,173)"/><rect x="489.91" y="261.60" width="13.84" height="6.40" rx="2" fill="rgb(180,180,180)"/><rect x="505.36" y="260.60" width="13.84" height="8.40" rx="2" fill="rgb(173,173,173)"/></g>
<g filter="url(#bl)"><rect x="304.90" y="262.30" width="13.24" height="5.00" rx="1.60" fill="rgb(18,18,18)"/><rect x="320.34" y="262.40" width="13.24" height="4.80" rx="1.60" fill="rgb(18,18,18)"/><rect x="335.79" y="262.40" width="13.24" height="4.80" rx="1.60" fill="rgb(18,18,18)"/><rect x="351.23" y="262.50" width="13.24" height="4.60" rx="1.60" fill="rgb(21,21,21)"/><rect x="366.67" y="262.50" width="13.24" height="4.60" rx="1.60" fill="rgb(21,21,21)"/><rect x="397.56" y="262.10" width="13.24" height="5.40" rx="1.60" fill="rgb(18,18,18)"/><rect x="413.00" y="262.20" width="13.24" height="5.20" rx="1.60" fill="rgb(18,18,18)"/><rect x="428.44" y="262.30" width="13.24" height="5.00" rx="1.60" fill="rgb(18,18,18)"/><rect x="443.89" y="262.40" width="13.24" height="4.80" rx="1.60" fill="rgb(18,18,18)"/><rect x="459.33" y="262.40" width="13.24" height="4.80" rx="1.60" fill="rgb(18,18,18)"/><rect x="474.77" y="262.40" width="13.24" height="4.80" rx="1.60" fill="rgb(18,18,18)"/><rect x="490.21" y="263.20" width="13.24" height="3.20" rx="1.60" fill="rgb(78,78,78)"/><rect x="505.66" y="262.20" width="13.24" height="5.20" rx="1.60" fill="rgb(18,18,18)"/></g>
<rect x="69.50" y="277.00" width="214.30" height="17.50" fill="#c0c0c0" />
<g filter="url(#b2)"><rect x="70.30" y="282.50" width="13.71" height="7.00" rx="2" fill="rgb(174,174,174)"/><rect x="85.61" y="282.50" width="13.71" height="7.00" rx="2" fill="rgb(174,174,174)"/><rect x="100.91" y="282.60" width="13.71" height="6.80" rx="2" fill="rgb(175,175,175)"/><rect x="116.22" y="282.60" width="13.71" height="6.80" rx="2" fill="rgb(175,175,175)"/><rect x="131.53" y="282.60" width="13.71" height="6.80" rx="2" fill="rgb(175,175,175)"/><rect x="146.84" y="282.60" width="13.71" height="6.80" rx="2" fill="rgb(174,174,174)"/><rect x="162.14" y="282.20" width="13.71" height="7.60" rx="2" fill="rgb(173,173,173)"/><rect x="177.45" y="282.30" width="13.71" height="7.40" rx="2" fill="rgb(178,178,178)"/><rect x="192.76" y="282.30" width="13.71" height="7.40" rx="2" fill="rgb(176,176,176)"/><rect x="208.06" y="282.30" width="13.71" height="7.40" rx="2" fill="rgb(173,173,173)"/><rect x="223.37" y="282.30" width="13.71" height="7.40" rx="2" fill="rgb(174,174,174)"/><rect x="238.68" y="282.30" width="13.71" height="7.40" rx="2" fill="rgb(173,173,173)"/><rect x="253.99" y="282.20" width="13.71" height="7.60" rx="2" fill="rgb(173,173,173)"/><rect x="269.29" y="282.00" width="13.71" height="8.00" rx="2" fill="rgb(173,173,173)"/></g>
<g filter="url(#bl)"><rect x="70.60" y="284.10" width="13.11" height="3.80" rx="1.60" fill="rgb(30,30,30)"/><rect x="85.91" y="284.10" width="13.11" height="3.80" rx="1.60" fill="rgb(30,30,30)"/><rect x="101.21" y="284.20" width="13.11" height="3.60" rx="1.60" fill="rgb(33,33,33)"/><rect x="116.52" y="284.20" width="13.11" height="3.60" rx="1.60" fill="rgb(36,36,36)"/><rect x="131.83" y="284.20" width="13.11" height="3.60" rx="1.60" fill="rgb(33,33,33)"/><rect x="147.14" y="284.20" width="13.11" height="3.60" rx="1.60" fill="rgb(30,30,30)"/><rect x="162.44" y="283.80" width="13.11" height="4.40" rx="1.60" fill="rgb(18,18,18)"/><rect x="177.75" y="283.90" width="13.11" height="4.20" rx="1.60" fill="rgb(56,56,56)"/><rect x="193.06" y="283.90" width="13.11" height="4.20" rx="1.60" fill="rgb(40,40,40)"/><rect x="208.36" y="283.90" width="13.11" height="4.20" rx="1.60" fill="rgb(23,23,23)"/><rect x="223.67" y="283.90" width="13.11" height="4.20" rx="1.60" fill="rgb(26,26,26)"/><rect x="238.98" y="283.90" width="13.11" height="4.20" rx="1.60" fill="rgb(23,23,23)"/><rect x="254.29" y="283.80" width="13.11" height="4.40" rx="1.60" fill="rgb(23,23,23)"/><rect x="269.59" y="283.60" width="13.11" height="4.80" rx="1.60" fill="rgb(23,23,23)"/></g>
<rect x="303.80" y="277.00" width="216.20" height="17.50" fill="#c0c0c0" />
<g filter="url(#b2)"><rect x="304.60" y="282.40" width="13.84" height="6.80" rx="2" fill="rgb(175,175,175)"/><rect x="320.04" y="282.40" width="13.84" height="6.80" rx="2" fill="rgb(175,175,175)"/><rect x="335.49" y="282.40" width="13.84" height="6.80" rx="2" fill="rgb(175,175,175)"/><rect x="350.93" y="282.40" width="13.84" height="6.80" rx="2" fill="rgb(175,175,175)"/><rect x="366.37" y="282.30" width="13.84" height="7.00" rx="2" fill="rgb(174,174,174)"/><rect x="381.81" y="283.30" width="13.84" height="5.00" rx="2" fill="rgb(187,187,187)"/><rect x="397.26" y="282.10" width="13.84" height="7.40" rx="2" fill="rgb(173,173,173)"/><rect x="412.70" y="281.90" width="13.84" height="7.80" rx="2" fill="rgb(173,173,173)"/><rect x="428.14" y="282.10" width="13.84" height="7.40" rx="2" fill="rgb(173,173,173)"/><rect x="443.59" y="282.00" width="13.84" height="7.60" rx="2" fill="rgb(173,173,173)"/><rect x="459.03" y="281.90" width="13.84" height="7.80" rx="2" fill="rgb(173,173,173)"/><rect x="474.47" y="281.90" width="13.84" height="7.80" rx="2" fill="rgb(173,173,173)"/><rect x="489.91" y="281.90" width="13.84" height="7.80" rx="2" fill="rgb(173,173,173)"/><rect x="505.36" y="281.80" width="13.84" height="8.00" rx="2" fill="rgb(173,173,173)"/></g>
<g filter="url(#bl)"><rect x="304.90" y="284.00" width="13.24" height="3.60" rx="1.60" fill="rgb(36,36,36)"/><rect x="320.34" y="284.00" width="13.24" height="3.60" rx="1.60" fill="rgb(33,33,33)"/><rect x="335.79" y="284.00" width="13.24" height="3.60" rx="1.60" fill="rgb(33,33,33)"/><rect x="351.23" y="284.00" width="13.24" height="3.60" rx="1.60" fill="rgb(33,33,33)"/><rect x="366.67" y="283.90" width="13.24" height="3.80" rx="1.60" fill="rgb(30,30,30)"/><rect x="382.11" y="284.90" width="13.24" height="1.80" rx="0.90" fill="rgb(130,130,130)"/><rect x="397.56" y="283.70" width="13.24" height="4.20" rx="1.60" fill="rgb(23,23,23)"/><rect x="413.00" y="283.50" width="13.24" height="4.60" rx="1.60" fill="rgb(18,18,18)"/><rect x="428.44" y="283.70" width="13.24" height="4.20" rx="1.60" fill="rgb(23,23,23)"/><rect x="443.89" y="283.60" width="13.24" height="4.40" rx="1.60" fill="rgb(18,18,18)"/><rect x="459.33" y="283.50" width="13.24" height="4.60" rx="1.60" fill="rgb(18,18,18)"/><rect x="474.77" y="283.50" width="13.24" height="4.60" rx="1.60" fill="rgb(18,18,18)"/><rect x="490.21" y="283.50" width="13.24" height="4.60" rx="1.60" fill="rgb(18,18,18)"/><rect x="505.66" y="283.40" width="13.24" height="4.80" rx="1.60" fill="rgb(18,18,18)"/></g>
<text x="3.17" y="331.40" font-size="27.5" font-weight="bold" fill="#000" >C</text>
<path d="M64.2,332.4 H241.1 V474.2 H64.2 Z" fill="none" stroke="#000" stroke-width="1.85"/>
<line x1="60.20" y1="474.20" x2="64.20" y2="474.20" stroke="#000" stroke-width="1.6" />
<text x="53.59" y="479.15" font-size="12.2" fill="#111" >0</text>
<line x1="60.20" y1="438.68" x2="64.20" y2="438.68" stroke="#000" stroke-width="1.6" />
<text x="46.81" y="443.62" font-size="12.2" fill="#111" >50</text>
<line x1="60.20" y1="403.15" x2="64.20" y2="403.15" stroke="#000" stroke-width="1.6" />
<text x="40.03" y="408.10" font-size="12.2" fill="#111" >100</text>
<line x1="60.20" y1="367.62" x2="64.20" y2="367.62" stroke="#000" stroke-width="1.6" />
<text x="40.03" y="372.57" font-size="12.2" fill="#111" >150</text>
<line x1="60.20" y1="332.10" x2="64.20" y2="332.10" stroke="#000" stroke-width="1.6" />
<text x="40.03" y="337.05" font-size="12.2" fill="#111" >200</text>
<line x1="78.70" y1="474.20" x2="78.70" y2="478.70" stroke="#000" stroke-width="1.6" />
<text x="76.80" y="490.10" font-size="12.6" fill="#111" >0</text>
<line x1="108.20" y1="474.20" x2="108.20" y2="478.70" stroke="#000" stroke-width="1.6" />
<text x="106.70" y="490.10" font-size="12.6" fill="#111" >8</text>
<line x1="137.90" y1="474.20" x2="137.90" y2="478.70" stroke="#000" stroke-width="1.6" />
<text x="131.89" y="490.10" font-size="12.6" fill="#111" >16</text>
<line x1="167.60" y1="474.20" x2="167.60" y2="478.70" stroke="#000" stroke-width="1.6" />
<text x="159.93" y="490.10" font-size="12.6" fill="#111" >20</text>
<line x1="197.10" y1="474.20" x2="197.10" y2="478.70" stroke="#000" stroke-width="1.6" />
<text x="189.86" y="490.10" font-size="12.6" fill="#111" >24</text>
<line x1="226.50" y1="474.20" x2="226.50" y2="478.70" stroke="#000" stroke-width="1.6" />
<text x="219.22" y="490.10" font-size="12.6" fill="#111" >48</text>
<line x1="78.70" y1="358.50" x2="78.70" y2="409.00" stroke="#555" stroke-width="1.2" />
<line x1="76.30" y1="358.50" x2="81.10" y2="358.50" stroke="#555" stroke-width="1.2" />
<line x1="76.30" y1="368.00" x2="81.10" y2="368.00" stroke="#555" stroke-width="1.2" />
<line x1="76.30" y1="396.00" x2="81.10" y2="396.00" stroke="#555" stroke-width="1.2" />
<line x1="76.30" y1="409.00" x2="81.10" y2="409.00" stroke="#555" stroke-width="1.2" />
<line x1="108.20" y1="365.40" x2="108.20" y2="410.00" stroke="#555" stroke-width="1.2" />
<line x1="105.80" y1="365.40" x2="110.60" y2="365.40" stroke="#555" stroke-width="1.2" />
<line x1="105.80" y1="410.00" x2="110.60" y2="410.00" stroke="#555" stroke-width="1.2" />
<line x1="137.90" y1="388.50" x2="137.90" y2="422.30" stroke="#555" stroke-width="1.2" />
<line x1="135.50" y1="388.50" x2="140.30" y2="388.50" stroke="#555" stroke-width="1.2" />
<line x1="135.50" y1="391.50" x2="140.30" y2="391.50" stroke="#555" stroke-width="1.2" />
<line x1="135.50" y1="407.00" x2="140.30" y2="407.00" stroke="#555" stroke-width="1.2" />
<line x1="135.50" y1="411.00" x2="140.30" y2="411.00" stroke="#555" stroke-width="1.2" />
<line x1="135.50" y1="422.30" x2="140.30" y2="422.30" stroke="#555" stroke-width="1.2" />
<line x1="167.60" y1="418.50" x2="167.60" y2="433.50" stroke="#555" stroke-width="1.2" />
<line x1="165.20" y1="418.50" x2="170.00" y2="418.50" stroke="#555" stroke-width="1.2" />
<line x1="165.20" y1="433.50" x2="170.00" y2="433.50" stroke="#555" stroke-width="1.2" />
<line x1="197.10" y1="411.00" x2="197.10" y2="439.50" stroke="#555" stroke-width="1.2" />
<line x1="194.70" y1="411.00" x2="199.50" y2="411.00" stroke="#555" stroke-width="1.2" />
<line x1="194.70" y1="437.00" x2="199.50" y2="437.00" stroke="#555" stroke-width="1.2" />
<line x1="194.70" y1="439.50" x2="199.50" y2="439.50" stroke="#555" stroke-width="1.2" />
<line x1="226.50" y1="440.00" x2="226.50" y2="456.00" stroke="#555" stroke-width="1.2" />
<line x1="224.10" y1="440.00" x2="228.90" y2="440.00" stroke="#555" stroke-width="1.2" />
<line x1="224.10" y1="456.00" x2="228.90" y2="456.00" stroke="#555" stroke-width="1.2" />
<polyline points="78.70,402.90 108.20,400.70 137.90,400.00 167.60,404.50 197.10,411.40 226.50,444.50" fill="none" stroke="#000" stroke-width="2.0" stroke-linejoin="round"/>
<polyline points="78.70,385.50 108.20,388.80 137.90,414.60 167.60,424.60 197.10,431.50 226.50,453.50" fill="none" stroke="#000" stroke-width="2.3" stroke-linejoin="round" stroke-dasharray="2.8,1.9"/>
<polyline points="78.70,381.50 108.20,394.00 137.90,412.50 167.60,424.60 197.10,427.80 226.50,447.50" fill="none" stroke="#000" stroke-width="2.3" stroke-linejoin="round" stroke-dasharray="2.8,1.9"/>
<polyline points="78.70,380.40 108.20,377.80 137.90,399.20 167.60,413.20 197.10,428.80" fill="none" stroke="#000" stroke-width="2.6" stroke-linejoin="round"/>
<polyline points="137.90,414.60 167.60,424.60" fill="none" stroke="#000" stroke-width="2.0" stroke-linejoin="round"/>
<rect x="76.11" y="400.31" width="5.18" height="5.18" fill="#111" stroke="#000" stroke-width="1.6"/>
<rect x="105.61" y="398.11" width="5.18" height="5.18" fill="#111" stroke="#000" stroke-width="1.6"/>
<rect x="135.31" y="397.41" width="5.18" height="5.18" fill="#111" stroke="#000" stroke-width="1.6"/>
<rect x="165.01" y="401.91" width="5.18" height="5.18" fill="#111" stroke="#000" stroke-width="1.6"/>
<rect x="194.51" y="408.81" width="5.18" height="5.18" fill="#111" stroke="#000" stroke-width="1.6"/>
<rect x="223.91" y="441.91" width="5.18" height="5.18" fill="#111" stroke="#000" stroke-width="1.6"/>
<path d="M78.70,382.82 L82.05,387.84 L75.35,387.84 Z" fill="#000"/>
<path d="M108.20,386.12 L111.55,391.14 L104.85,391.14 Z" fill="#000"/>
<path d="M137.90,411.92 L141.25,416.94 L134.55,416.94 Z" fill="#000"/>
<path d="M167.60,421.92 L170.95,426.94 L164.25,426.94 Z" fill="#000"/>
<path d="M197.10,428.82 L200.45,433.84 L193.75,433.84 Z" fill="#000"/>
<path d="M226.50,450.82 L229.85,455.84 L223.15,455.84 Z" fill="#000"/>
<path d="M78.70,378.26 L82.59,381.50 L78.70,384.74 L74.81,381.50 Z" fill="#000"/>
<path d="M108.20,390.76 L112.09,394.00 L108.20,397.24 L104.31,394.00 Z" fill="#000"/>
<path d="M137.90,409.26 L141.79,412.50 L137.90,415.74 L134.01,412.50 Z" fill="#000"/>
<path d="M167.60,421.36 L171.49,424.60 L167.60,427.84 L163.71,424.60 Z" fill="#000"/>
<path d="M197.10,424.56 L200.99,427.80 L197.10,431.04 L193.21,427.80 Z" fill="#000"/>
<path d="M226.50,444.26 L230.39,447.50 L226.50,450.74 L222.61,447.50 Z" fill="#000"/>
<circle cx="78.70" cy="380.40" r="2.70" fill="#222" stroke="#000" stroke-width="1.8"/>
<circle cx="108.20" cy="377.80" r="2.70" fill="#999" stroke="#000" stroke-width="1.8"/>
<circle cx="137.90" cy="399.20" r="2.70" fill="#333" stroke="#000" stroke-width="1.8"/>
<circle cx="167.60" cy="413.20" r="2.70" fill="#999" stroke="#000" stroke-width="1.8"/>
<circle cx="197.10" cy="428.80" r="2.70" fill="#888" stroke="#000" stroke-width="1.8"/>
<circle cx="226.50" cy="449.50" r="2.70" fill="#222" stroke="#000" stroke-width="1.8"/>
<text transform="translate(12.40,456.24) rotate(-90)" font-size="15.1" fill="#111">Normalized GR</text>
<text transform="translate(30.40,472.84) rotate(-90)" font-size="15.15" fill="#111">expression (% actin)</text>
<text x="122.07" y="509.90" font-size="15.0" fill="#111" >Time (h)</text>
<text x="274.96" y="332.20" font-size="27.5" font-weight="bold" fill="#000" >D</text>
<path d="M341.6,332.8 H517.6 V474 H341.6 Z" fill="none" stroke="#000" stroke-width="1.85"/>
<line x1="337.60" y1="474.00" x2="341.60" y2="474.00" stroke="#000" stroke-width="1.6" />
<text x="330.49" y="478.95" font-size="12.2" fill="#111" >0</text>
<line x1="337.60" y1="445.78" x2="341.60" y2="445.78" stroke="#000" stroke-width="1.6" />
<text x="323.75" y="450.73" font-size="12.2" fill="#111" >25</text>
<line x1="337.60" y1="417.56" x2="341.60" y2="417.56" stroke="#000" stroke-width="1.6" />
<text x="323.71" y="422.51" font-size="12.2" fill="#111" >50</text>
<line x1="337.60" y1="389.34" x2="341.60" y2="389.34" stroke="#000" stroke-width="1.6" />
<text x="323.75" y="394.29" font-size="12.2" fill="#111" >75</text>
<line x1="337.60" y1="361.12" x2="341.60" y2="361.12" stroke="#000" stroke-width="1.6" />
<text x="316.93" y="366.07" font-size="12.2" fill="#111" >100</text>
<line x1="337.60" y1="332.90" x2="341.60" y2="332.90" stroke="#000" stroke-width="1.6" />
<text x="316.96" y="337.85" font-size="12.2" fill="#111" >125</text>
<line x1="356.50" y1="474.00" x2="356.50" y2="478.50" stroke="#000" stroke-width="1.6" />
<text x="355.40" y="490.10" font-size="12.6" fill="#111" >0</text>
<line x1="385.80" y1="474.00" x2="385.80" y2="478.50" stroke="#000" stroke-width="1.6" />
<text x="383.70" y="490.10" font-size="12.6" fill="#111" >8</text>
<line x1="415.20" y1="474.00" x2="415.20" y2="478.50" stroke="#000" stroke-width="1.6" />
<text x="407.49" y="490.10" font-size="12.6" fill="#111" >16</text>
<line x1="444.40" y1="474.00" x2="444.40" y2="478.50" stroke="#000" stroke-width="1.6" />
<text x="437.33" y="490.10" font-size="12.6" fill="#111" >20</text>
<line x1="473.80" y1="474.00" x2="473.80" y2="478.50" stroke="#000" stroke-width="1.6" />
<text x="467.16" y="490.10" font-size="12.6" fill="#111" >24</text>
<line x1="503.30" y1="474.00" x2="503.30" y2="478.50" stroke="#000" stroke-width="1.6" />
<text x="496.42" y="490.10" font-size="12.6" fill="#111" >48</text>
<line x1="356.50" y1="357.30" x2="356.50" y2="371.00" stroke="#555" stroke-width="1.2" />
<line x1="354.10" y1="357.30" x2="358.90" y2="357.30" stroke="#555" stroke-width="1.2" />
<line x1="354.10" y1="371.00" x2="358.90" y2="371.00" stroke="#555" stroke-width="1.2" />
<line x1="385.80" y1="352.00" x2="385.80" y2="383.00" stroke="#555" stroke-width="1.2" />
<line x1="383.40" y1="352.00" x2="388.20" y2="352.00" stroke="#555" stroke-width="1.2" />
<line x1="383.40" y1="383.00" x2="388.20" y2="383.00" stroke="#555" stroke-width="1.2" />
<line x1="415.20" y1="348.20" x2="415.20" y2="385.70" stroke="#555" stroke-width="1.2" />
<line x1="412.80" y1="348.20" x2="417.60" y2="348.20" stroke="#555" stroke-width="1.2" />
<line x1="412.80" y1="385.70" x2="417.60" y2="385.70" stroke="#555" stroke-width="1.2" />
<line x1="473.80" y1="391.60" x2="473.80" y2="409.20" stroke="#555" stroke-width="1.2" />
<line x1="471.40" y1="391.60" x2="476.20" y2="391.60" stroke="#555" stroke-width="1.2" />
<line x1="471.40" y1="409.20" x2="476.20" y2="409.20" stroke="#555" stroke-width="1.2" />
<line x1="503.30" y1="361.00" x2="503.30" y2="373.00" stroke="#555" stroke-width="1.2" />
<line x1="503.30" y1="440.00" x2="503.30" y2="455.00" stroke="#555" stroke-width="1.2" />
<line x1="500.90" y1="361.00" x2="505.70" y2="361.00" stroke="#555" stroke-width="1.2" />
<line x1="500.90" y1="366.50" x2="505.70" y2="366.50" stroke="#555" stroke-width="1.2" />
<line x1="500.90" y1="373.00" x2="505.70" y2="373.00" stroke="#555" stroke-width="1.2" />
<line x1="500.90" y1="440.00" x2="505.70" y2="440.00" stroke="#555" stroke-width="1.2" />
<line x1="500.90" y1="455.00" x2="505.70" y2="455.00" stroke="#555" stroke-width="1.2" />
<polyline points="356.50,362.50 385.80,369.00 415.20,370.20 444.40,377.40 473.80,400.50 503.30,449.80" fill="none" stroke="#000" stroke-width="1.8" stroke-linejoin="round"/>
<polyline points="356.50,362.00 385.80,372.00 415.20,378.60 444.40,385.70 473.80,375.30 503.30,370.90" fill="none" stroke="#000" stroke-width="1.7" stroke-linejoin="round" stroke-dasharray="2.6,1.9"/>
<polyline points="356.50,361.20 385.80,361.20 415.20,355.80 444.40,352.10 473.80,359.90 503.30,362.70" fill="none" stroke="#000" stroke-width="1.7" stroke-linejoin="round" stroke-dasharray="2.6,1.9"/>
<polyline points="356.50,365.50 385.80,375.30 415.20,370.00 444.40,374.60 473.80,381.00 503.30,444.50" fill="none" stroke="#000" stroke-width="2.0" stroke-linejoin="round"/>
<rect x="354.10" y="360.10" width="4.80" height="4.80" fill="#fff" stroke="#000" stroke-width="1.6"/>
<rect x="383.40" y="366.60" width="4.80" height="4.80" fill="#fff" stroke="#000" stroke-width="1.6"/>
<rect x="412.80" y="367.80" width="4.80" height="4.80" fill="#fff" stroke="#000" stroke-width="1.6"/>
<rect x="442.00" y="375.00" width="4.80" height="4.80" fill="#fff" stroke="#000" stroke-width="1.6"/>
<rect x="471.40" y="398.10" width="4.80" height="4.80" fill="#fff" stroke="#000" stroke-width="1.6"/>
<rect x="500.90" y="447.40" width="4.80" height="4.80" fill="#fff" stroke="#000" stroke-width="1.6"/>
<path d="M356.50,359.52 L359.60,364.17 L353.40,364.17 Z" fill="#000"/>
<path d="M385.80,369.52 L388.90,374.17 L382.70,374.17 Z" fill="#000"/>
<path d="M415.20,376.12 L418.30,380.77 L412.10,380.77 Z" fill="#000"/>
<path d="M444.40,383.22 L447.50,387.87 L441.30,387.87 Z" fill="#000"/>
<path d="M473.80,372.82 L476.90,377.47 L470.70,377.47 Z" fill="#000"/>
<path d="M503.30,368.42 L506.40,373.07 L500.20,373.07 Z" fill="#000"/>
<path d="M356.50,358.20 L360.10,361.20 L356.50,364.20 L352.90,361.20 Z" fill="#000"/>
<path d="M385.80,358.20 L389.40,361.20 L385.80,364.20 L382.20,361.20 Z" fill="#000"/>
<path d="M415.20,352.80 L418.80,355.80 L415.20,358.80 L411.60,355.80 Z" fill="#000"/>
<path d="M444.40,349.10 L448.00,352.10 L444.40,355.10 L440.80,352.10 Z" fill="#000"/>
<path d="M473.80,356.90 L477.40,359.90 L473.80,362.90 L470.20,359.90 Z" fill="#000"/>
<path d="M503.30,359.70 L506.90,362.70 L503.30,365.70 L499.70,362.70 Z" fill="#000"/>
<circle cx="356.50" cy="365.50" r="2.50" fill="#fff" stroke="#000" stroke-width="1.8"/>
<circle cx="385.80" cy="375.30" r="2.50" fill="#fff" stroke="#000" stroke-width="1.8"/>
<circle cx="415.20" cy="370.00" r="2.50" fill="#fff" stroke="#000" stroke-width="1.8"/>
<circle cx="444.40" cy="374.60" r="2.50" fill="#fff" stroke="#000" stroke-width="1.8"/>
<circle cx="473.80" cy="381.00" r="2.50" fill="#fff" stroke="#000" stroke-width="1.8"/>
<circle cx="503.30" cy="444.50" r="2.50" fill="#fff" stroke="#000" stroke-width="1.8"/>
<text transform="translate(310.90,484.88) rotate(-90)" font-size="15.25" fill="#111">Cell viability (% control)</text>
<text x="399.07" y="509.90" font-size="15.0" fill="#111" >Time (h)</text>
<line x1="115.40" y1="526.20" x2="141.50" y2="526.20" stroke="#000" stroke-width="2.3" />
<rect x="125.95" y="523.70" width="5.00" height="5.00" fill="#fff" stroke="#000" stroke-width="1.6"/>
<text x="146.58" y="528.90" font-size="12.3" fill="#111" >ALL-3</text>
<line x1="206.90" y1="526.20" x2="232.30" y2="526.20" stroke="#000" stroke-width="2.3" stroke-dasharray="2.8,1.9"/>
<path d="M219.60,523.35 L223.17,528.70 L216.04,528.70 Z" fill="#000"/>
<text x="236.88" y="528.90" font-size="12.3" fill="#111" >ALL-7</text>
<line x1="295.80" y1="526.20" x2="321.50" y2="526.20" stroke="#000" stroke-width="2.8" />
<circle cx="308.95" cy="526.20" r="2.80" fill="#fff" stroke="#000" stroke-width="1.9"/>
<text x="326.88" y="528.90" font-size="12.3" fill="#111" >ALL-16</text>
<line x1="387.70" y1="526.20" x2="412.00" y2="526.20" stroke="#000" stroke-width="2.3" stroke-dasharray="2.8,1.9"/>
<path d="M399.85,522.75 L403.99,526.20 L399.85,529.65 L395.71,526.20 Z" fill="#000"/>
<text x="416.88" y="528.90" font-size="12.3" fill="#111" >ALL-19</text>
</svg></body></html>
